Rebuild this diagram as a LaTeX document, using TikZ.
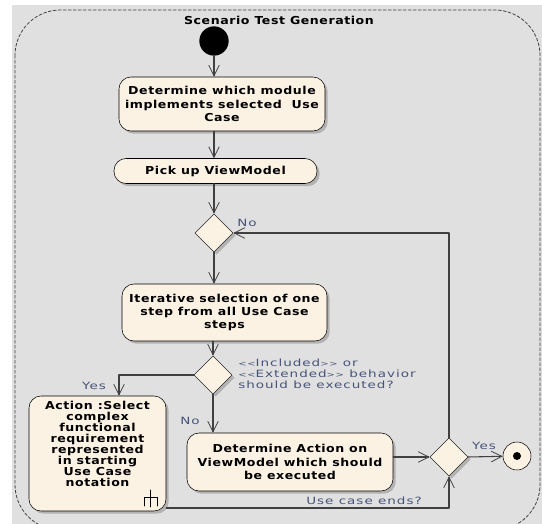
\documentclass[tikz,border=0pt]{standalone}
\usepackage{fontspec}
\setmainfont{DejaVu Sans}
\newfontfamily\boxfont[FakeStretch=1.15,LetterSpace=5]{DejaVu Sans}
\newfontfamily\labelfont[FakeStretch=1.35,LetterSpace=10]{DejaVu Sans}
\usetikzlibrary{arrows.meta,shapes.geometric,shadows}

\definecolor{framegray}{RGB}{224,224,224}
\definecolor{actfill}{RGB}{252,242,228}
\definecolor{linegray}{RGB}{64,64,64}
\definecolor{labelblue}{RGB}{70,84,120}

\newcommand{\stereo}[1]{{\fontsize{5.5}{8}\selectfont<{}<}#1{\fontsize{5.5}{8}\selectfont>{}>}}

\tikzset{
  activity/.style={draw=black,fill=actfill,rounded corners=9pt,align=center,inner sep=1pt,
    font=\boxfont\bfseries\fontsize{8.2}{10}\selectfont,
    drop shadow={shadow xshift=2pt,shadow yshift=-2pt,fill=black!30,opacity=1}},
  decision/.style={diamond,draw=black!85,fill=actfill,inner sep=0pt,minimum size=28.5pt,
    drop shadow={shadow xshift=2pt,shadow yshift=-2pt,fill=black!30,opacity=1}},
  flow/.style={draw=linegray,line width=0.8pt,-{Straight Barb[length=8pt,width=8pt,line width=0.6pt]}},
  guard/.style={font=\labelfont\fontsize{7.5}{8.25}\selectfont,text=labelblue,inner sep=0pt}
}

\begin{document}
\begin{tikzpicture}[line cap=round,line join=round,x=0.75pt,y=-0.75pt]

\useasboundingbox (0,0) rectangle (542,524);
\clip (0,0) rectangle (542,524);
\fill[white] (0,0) rectangle (542,524);
\fill[framegray] (12,5) rectangle (542,524);
\draw[linegray,line width=0.6pt,dash pattern=on 2.25pt off 1.5pt,rounded corners=34pt] (15,10) rectangle (540,530);

\node[font=\boxfont\bfseries\fontsize{8.2}{10}\selectfont] (title) at (279,20) {Scenario Test Generation};

\node[circle,fill=black,minimum size=22pt,inner sep=0pt] (start) at (214,41) {};
\node[activity,minimum width=154.5pt,minimum height=40.5pt] (determine) at (222,104) {Determine which module\\implements selected\ \ Use\\Case};
\node[activity,minimum width=152.25pt,minimum height=18.75pt] (pickup) at (215.5,171) {Pick up ViewModel};
\node[decision] (loop) at (214,233) {};
\node[activity,minimum width=153.75pt,minimum height=42.75pt] (iterate) at (224.5,312.5) {Iterative selection of one\\step from all Use Case\\steps};
\node[decision] (behavior) at (213,375) {};
\node[activity,minimum width=102.75pt,minimum height=86.25pt,font=\boxfont\bfseries\fontsize{8.2}{8.3}\selectfont] (complex) at (97.5,453.5) {Action :Select\\complex\\functional\\requirement\\represented\\in starting\\Use Case\\notation\\[6pt]};
\node[activity,minimum width=154.5pt,minimum height=43.5pt] (viewaction) at (290,462) {Determine Action on\\ViewModel which should\\be executed};
\node[decision] (ends) at (449,457) {};
\node[circle,draw=black,fill=actfill,minimum size=21pt,inner sep=0pt] (final) at (517,456) {};
\node[circle,fill=black,minimum size=6pt,inner sep=0pt] (finaldot) at (final) {};

% rake symbol of the call behaviour action
\draw[black,line width=0.6pt] (150.7,490) -- (150.7,507) (144,506) -- (144,497) -- (157,497) -- (157,506);

\coordinate (yesturn) at (119,375);
\coordinate (endturn) at (449,508);

\draw[flow] (start) -- (start |- determine.north);
\draw[flow] (determine.south -| start) -- (start |- pickup.north);
\draw[flow] (pickup.south -| loop) -- (loop);
\draw[flow] (loop) -- (loop |- iterate.north);
\draw[flow] (iterate.south -| behavior) -- (behavior);
\draw[flow] (behavior.west) -- (yesturn) -- (yesturn |- complex.north);
\draw[flow] (behavior) -- (behavior |- viewaction.north);
\draw[flow] (viewaction.east |- ends) -- (ends.west);
\draw[flow] (complex.east |- endturn) -| (ends.south);
\draw[flow] (ends.north) |- (loop.east);
\draw[flow] (ends.east) -- (final);

\node[guard] (nolabel) at (247,223) {No};
\node[guard] (yeslabel) at (94,386) {Yes};
\node[guard] (nobelow) at (190,421) {No};
\node[guard,anchor=north west,align=left] (included) at (238,359) {\stereo{Included} or\\\stereo{Extended} behavior\\should be executed?};
\node[guard] (yesfinal) at (484,446) {Yes};
\node[guard] (endslabel) at (364,501) {Use case ends?};

\end{tikzpicture}
\end{document}
